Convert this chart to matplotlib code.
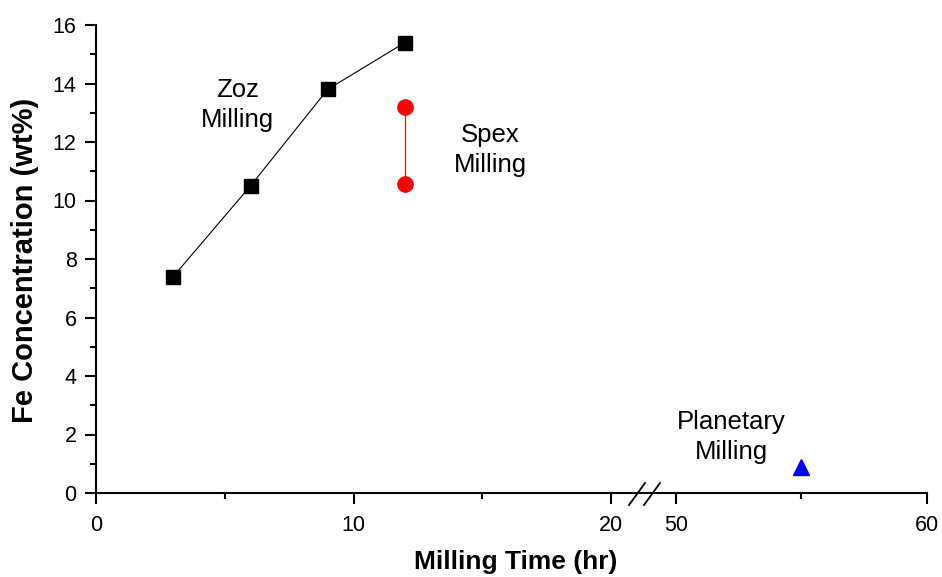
import matplotlib.pyplot as plt
from matplotlib.lines import Line2D
from matplotlib.ticker import MultipleLocator

plt.rcParams['font.family'] = ['Liberation Sans', 'DejaVu Sans']

zoz_time = [3, 6, 9, 12]
zoz_fe = [7.4, 10.5, 13.8, 15.4]
spex_time = [12, 12]
spex_fe = [13.2, 10.55]
planetary_time = [55]
planetary_fe = [0.9]

fig = plt.figure(figsize=(9.42, 5.77), dpi=100)
W, H = 942, 577
bottom = 1 - 493 / H
height = (493 - 25) / H
brk = 645 / W
ax1 = fig.add_axes([96 / W, bottom, brk - 96 / W, height])
ax2 = fig.add_axes([brk, bottom, 927 / W - brk, height])

ax1.plot(zoz_time, zoz_fe, color='black', lw=0.8, marker='s', ms=10,
         mfc='black', mec='black', clip_on=False)
ax1.plot(spex_time, spex_fe, color='red', lw=0.9, marker='o', ms=11,
         mfc='red', mec='red', clip_on=False)
ax2.plot(planetary_time, planetary_fe, ls='none', marker='^', ms=11,
         mfc='blue', mec='blue', clip_on=False)

ax1.set_xlim(0, 20 + 34 / 25.75)
ax2.set_xlim(50 - 31 / 25.1, 60)
for ax in (ax1, ax2):
    ax.set_ylim(0, 16)
    ax.spines['top'].set_visible(False)
    ax.spines['right'].set_visible(False)
    ax.spines['bottom'].set_linewidth(1.5)
    ax.spines['left'].set_linewidth(1.5)
    ax.tick_params(which='major', direction='out', length=8, width=1.5,
                   labelsize=15.5, pad=6)
    ax.tick_params(which='minor', direction='out', length=4, width=1.5)
    ax.tick_params(axis='x', which='major', pad=8)

ax1.xaxis.set_major_locator(MultipleLocator(10))
ax1.xaxis.set_minor_locator(MultipleLocator(5))
ax1.yaxis.set_major_locator(MultipleLocator(2))
ax1.yaxis.set_minor_locator(MultipleLocator(1))
ax2.spines['left'].set_visible(False)
ax2.tick_params(axis='y', which='both', left=False, labelleft=False)
ax2.xaxis.set_major_locator(MultipleLocator(10))
ax2.xaxis.set_minor_locator(MultipleLocator(5))

ax1.text(5.48, 13.27, 'Zoz\nMilling', ha='center', va='center', fontsize=18.5,
         linespacing=1.3)
ax1.text(15.3, 11.73, 'Spex\nMilling', ha='center', va='center',
         fontsize=18.5, linespacing=1.3)
ax2.text(52.19, 1.91, 'Planetary\nMilling', ha='center', va='center',
         fontsize=18.5, linespacing=1.3)

fig.text(516 / W, 1 - 562 / H, 'Milling Time (hr)', ha='center', va='center',
         fontsize=19, fontweight='bold')
fig.text(25 / W, 1 - 260 / H, 'Fe Concentration (wt%)', ha='center',
         va='center', rotation=90, fontsize=21, fontweight='bold')

# break marks
for x0 in (629, 644):
    fig.add_artist(Line2D([x0 / W, (x0 + 16) / W], [1 - 505 / H, 1 - 483 / H],
                          color='black', lw=1.3))

fig.savefig('out.png', dpi=100)
